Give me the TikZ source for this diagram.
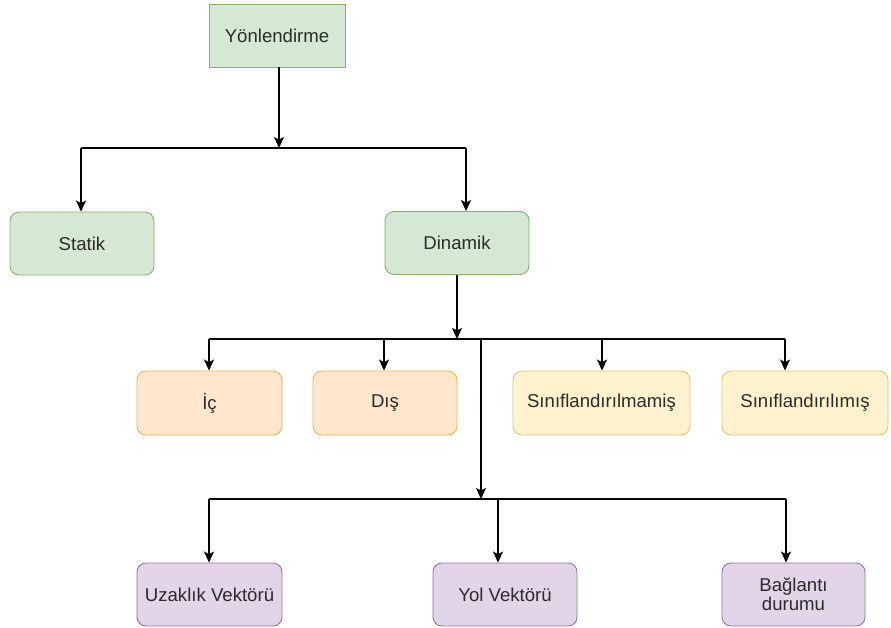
\documentclass[tikz,border=0pt]{standalone}
\usepackage{fontspec}
\setmainfont{Liberation Sans}
\usetikzlibrary{arrows.meta}
\definecolor{gfill}{HTML}{D5E8D4}\definecolor{gline}{HTML}{82B366}
\definecolor{ofill}{HTML}{FFE6CC}\definecolor{oline}{HTML}{D79B00}
\definecolor{yfill}{HTML}{FFF2CC}\definecolor{yline}{HTML}{D6B656}
\definecolor{pfill}{HTML}{E1D5E7}\definecolor{pline}{HTML}{9673A6}
\definecolor{txt}{HTML}{2B2B2B}
\begin{document}
\begin{tikzpicture}[x=1pt,y=-1pt,
  box/.style={draw, line width=0.9pt, minimum height=63pt, inner sep=0pt,
    font=\fontsize{18.6}{21}\selectfont, text=txt, rounded corners=9pt, align=center},
  gbox/.style={box, fill=gfill, draw=gline},
  obox/.style={box, fill=ofill, draw=oline!70},
  ybox/.style={box, fill=yfill, draw=yline!80},
  pbox/.style={box, fill=pfill, draw=pline},
  conn/.style={line width=1.4pt, black},
  arr/.style={conn, -{Stealth[length=11pt,width=10pt,inset=2.5pt]}}]
\useasboundingbox (0,0) rectangle (891,627);
\fill[white] (0,0) rectangle (891,627);

\node[gbox, rounded corners=0pt, minimum width=136pt] (Y) at (277,35.5) {Yönlendirme};
\node[gbox, minimum width=144pt] (St) at (82,243.5) {Statik};
\node[gbox, minimum width=144pt] (Di) at (457,243) {Dinamik};

\node[obox, minimum width=145pt, minimum height=64pt] (Ic) at (209.5,403) {İç};
\node[obox, minimum width=144pt, minimum height=64pt] (Dis) at (385,403) {Dış};
\node[ybox, minimum width=177pt, minimum height=64pt] (S1) at (601.5,403) {Sınıflandırılmamiş};
\node[ybox, minimum width=166pt, minimum height=64pt] (S2) at (805,403) {Sınıflandırılımış};

\node[pbox, minimum width=145pt, minimum height=63pt] (U) at (209.5,594.5) {Uzaklık Vektörü};
\node[pbox, minimum width=144pt, minimum height=63pt] (Yo) at (505,594.5) {Yol Vektörü};
\node[pbox, minimum width=143pt, minimum height=63pt] (B) at (793.5,594.5) {Bağlantı\\[-2pt]durumu};

% junctions
\coordinate (j1) at (279,148);
\coordinate (j1l) at (81,148);
\coordinate (j1r) at (466,148);
\coordinate (j2) at (457,339);
\coordinate (j2l) at (209,339);
\coordinate (j2r) at (785,339);
\coordinate (j2a) at (384,339);
\coordinate (j2b) at (602,339);
\coordinate (j2c) at (481,339);
\coordinate (j3) at (481,499);
\coordinate (j3l) at (209,499);
\coordinate (j3m) at (498,499);
\coordinate (j3r) at (786,499);

\draw[arr] (j1 |- Y.south) -- (j1);
\draw[conn] (j1l) -- (j1r);
\draw[arr] (j1l) -- (j1l |- St.north);
\draw[arr] (j1r) -- (j1r |- Di.north);

\draw[arr] (Di.south) -- (j2);
\draw[conn] (j2l) -- (j2r);
\draw[arr] (j2l) -- (j2l |- Ic.north);
\draw[arr] (j2a) -- (j2a |- Dis.north);
\draw[arr] (j2b) -- (j2b |- S1.north);
\draw[arr] (j2r) -- (j2r |- S2.north);
\draw[arr] (j2c) -- (j3);

\draw[conn] (j3l) -- (j3r);
\draw[arr] (j3l) -- (j3l |- U.north);
\draw[arr] (j3m) -- (j3m |- Yo.north);
\draw[arr] (j3r) -- (j3r |- B.north);
\end{tikzpicture}
\end{document}
